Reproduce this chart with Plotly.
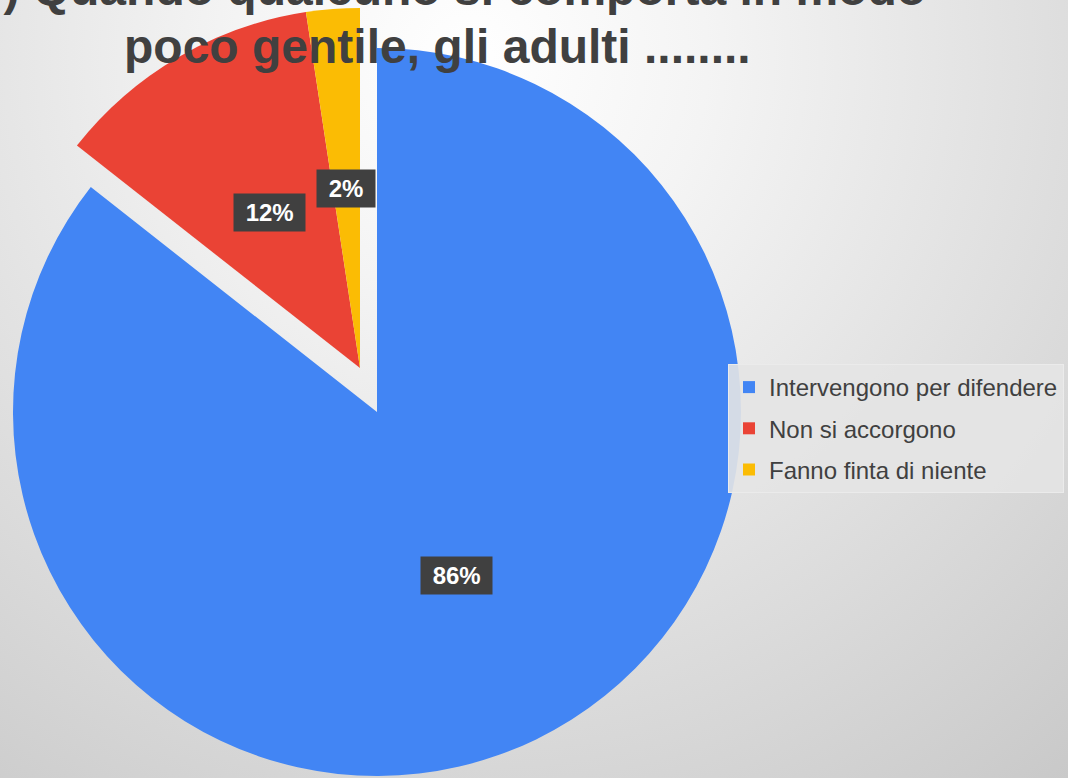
import math
import base64
import plotly.graph_objects as go

W, H = 1068, 778

title_lines = ["10) Quando qualcuno si comporta in modo", "poco gentile, gli adulti ........"]
labels = ["Intervengono per difendere", "Non si accorgono", "Fanno finta di niente"]
counts = [107, 15, 3]
colors = ["#4285F4", "#EA4335", "#FBBC04"]
exploded = [False, True, True]

FONT = "Liberation Sans, Arial, sans-serif"

# pie centres / radii in pixels (main pie and the pulled-out group)
main_c, main_r = (377, 412), 364
pulled_c, pulled_r = (360, 368), 360


def domain(c, r):
    return dict(x=[(c[0] - r) / W, (c[0] + r) / W],
                y=[1 - (c[1] + r) / H, 1 - (c[1] - r) / H])


fig = go.Figure()

# two pie traces: the un-exploded slices, and the exploded ones shifted together
for c, r, show in [(main_c, main_r, [not e for e in exploded]), (pulled_c, pulled_r, exploded)]:
    fig.add_trace(go.Pie(
        labels=labels, values=counts, sort=False, direction="clockwise", rotation=0,
        marker=dict(colors=[col if s else "rgba(0,0,0,0)" for col, s in zip(colors, show)],
                    line=dict(width=0)),
        textinfo="none", hoverinfo="label+percent",
        domain=domain(c, r), showlegend=False,
    ))

# legend entries
for lab, col in zip(labels, colors):
    fig.add_trace(go.Scatter(x=[None], y=[None], mode="markers", name=lab, legendgroup=lab,
                             marker=dict(symbol="square", size=12, color=col)))

# percentage labels at half radius on each slice bisector
total = sum(counts)
start = 0
for i, v in enumerate(counts):
    mid = (start + v / 2) / total * 2 * math.pi
    start += v
    c, r = (pulled_c, pulled_r) if exploded[i] else (main_c, main_r)
    px = c[0] + 0.5 * r * math.sin(mid)
    py = c[1] - 0.5 * r * math.cos(mid)
    fig.add_annotation(x=px / W, y=1 - py / H, xref="paper", yref="paper",
                       xanchor="center", yanchor="middle",
                       text=f" {round(v / total * 100)}% ", showarrow=False,
                       font=dict(family=FONT, size=24, color="white", weight="bold"),
                       bgcolor="#404040", borderpad=5)

# title, two lines, the first partly off the top edge
for line, base in zip(title_lines, [4, 62]):
    fig.add_annotation(x=437.5 / W, y=1 - (base + 13) / H, xref="paper", yref="paper",
                       xanchor="center", yanchor="bottom", text=line, showarrow=False,
                       font=dict(family=FONT, size=48, color="#404040", weight="bold"))

# soft radial background
svg = (f'<svg xmlns="http://www.w3.org/2000/svg" width="{W}" height="{H}">'
       '<defs><radialGradient id="g" cx="470" cy="60" r="950" gradientUnits="userSpaceOnUse">'
       '<stop offset="0" stop-color="#ffffff"/><stop offset="0.25" stop-color="#f4f4f4"/>'
       '<stop offset="1" stop-color="#c8c8c8"/></radialGradient></defs>'
       f'<rect width="{W}" height="{H}" fill="url(#g)"/></svg>')
bg = "data:image/svg+xml;base64," + base64.b64encode(svg.encode()).decode()

fig.update_layout(
    width=W, height=H, autosize=False,
    margin=dict(l=0, r=0, t=0, b=0, pad=0),
    paper_bgcolor="#dcdcdc", plot_bgcolor="rgba(0,0,0,0)",
    images=[dict(source=bg, xref="paper", yref="paper", x=0, y=1, sizex=1, sizey=1,
                 sizing="stretch", layer="below", xanchor="left", yanchor="top")],
    legend=dict(x=728 / W, y=1 - 364 / H, xanchor="left", yanchor="top",
                bgcolor="rgba(228,228,228,0.9)", bordercolor="#ebebeb", borderwidth=1,
                font=dict(family=FONT, size=24, color="#404040"), tracegroupgap=7),
    xaxis=dict(visible=False), yaxis=dict(visible=False),
)

# drop the default page margin so the figure sits at the window corner
fig.write_html("out.html", config={"displayModeBar": False},
               post_script="document.body.style.margin='0px';")
